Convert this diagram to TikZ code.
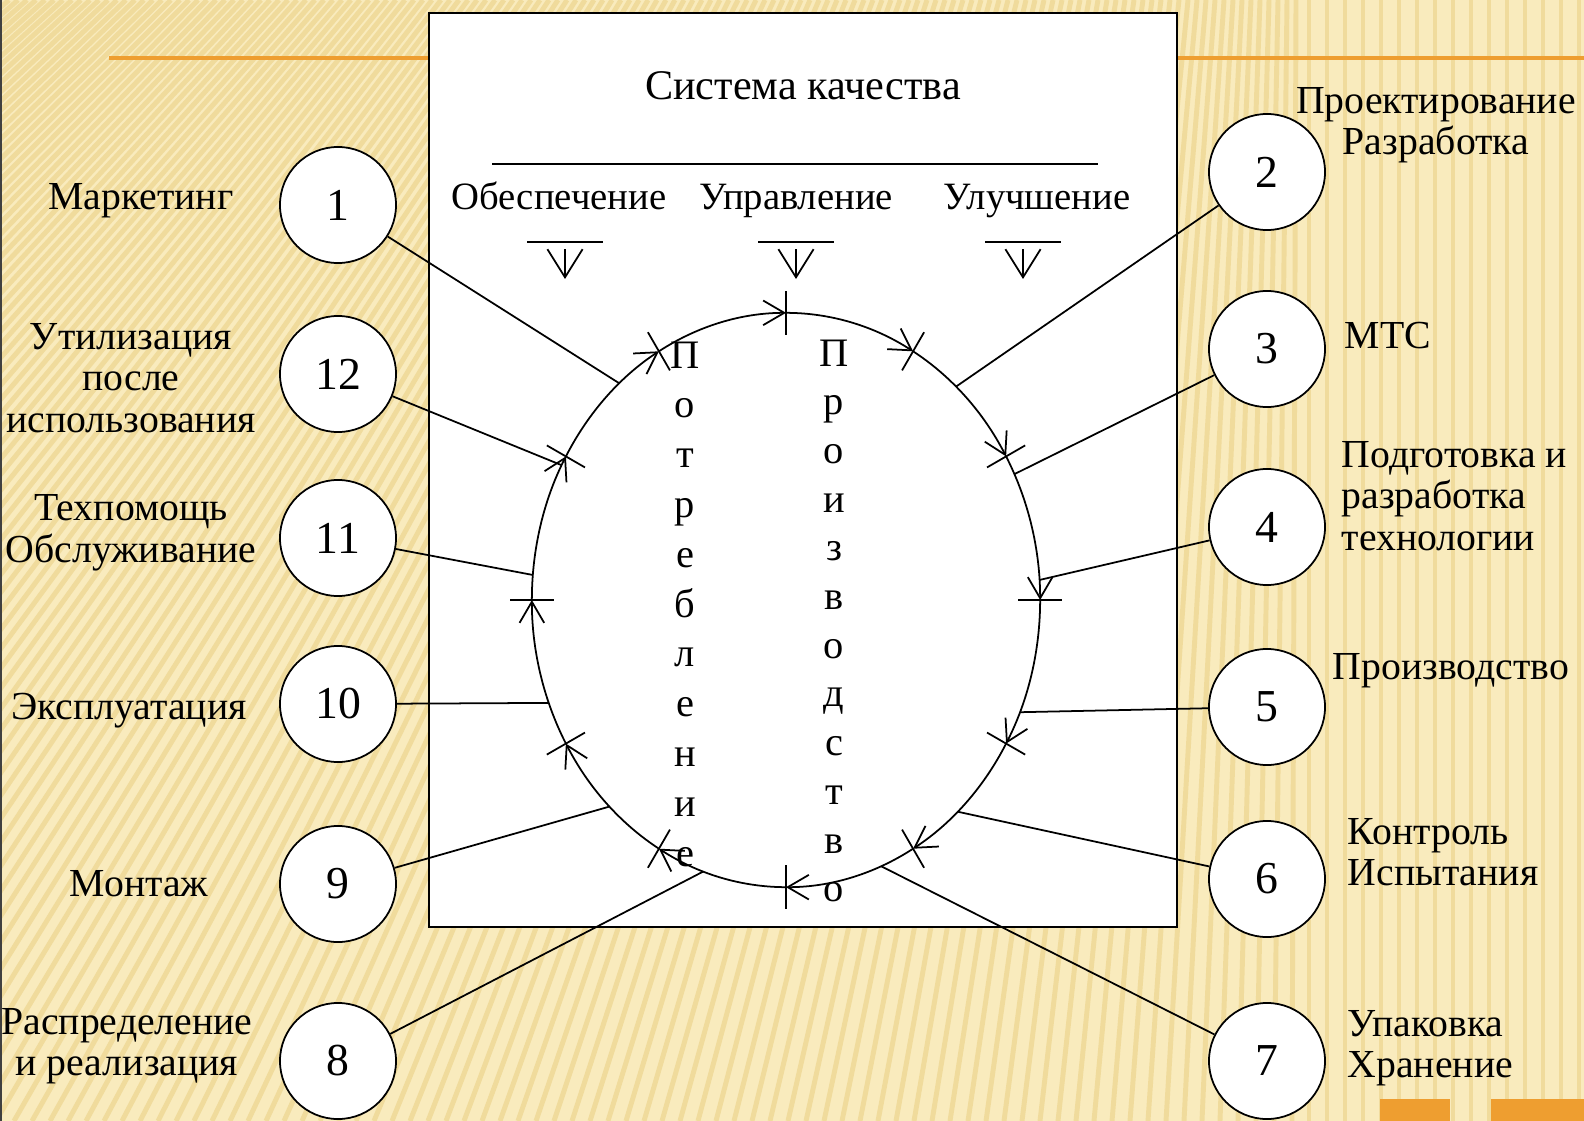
\documentclass[tikz,border=0pt]{standalone}
\usepackage{fontspec}
\setmainfont{Liberation Serif}
\usetikzlibrary{arrows.meta}

\begin{document}
\begin{tikzpicture}[x=0.01cm,y=0.01cm,
  numcirc/.style={circle,draw,fill=white,line width=0.5pt,minimum size=1.16cm,inner sep=0pt,font=\fontsize{13}{13}\selectfont},
  lbl/.style={font=\fontsize{11.3}{11.8}\selectfont,inner sep=0pt},
  head/.style={font=\fontsize{11}{12}\selectfont,inner sep=0pt,anchor=base},
  vletter/.style={font=\fontsize{11.5}{12}\selectfont,inner sep=0pt,anchor=base},
  ring/.style={line width=0.5pt,-{Straight Barb[length=6pt,width=7pt]}},
  link/.style={line width=0.5pt}]
  \definecolor{cbg}{RGB}{249,235,189}
  \definecolor{cstripe}{RGB}{240,219,156}
  \definecolor{corange}{RGB}{238,158,48}
  \useasboundingbox (0,0) rectangle (1584,-1121);
  \fill[cbg] (0,0) rectangle (1584,-1121);
  \begin{scope}
    \clip (0,0) rectangle (1584,-1121);
    \foreach \bx in {-1300,-1282,...,1300}{%
      \draw[cstripe,line width=1.4pt] (\bx,-1121) -- ({0.5*\bx+650},0);
    }
    \foreach \bx in {1309,1327,...,1584}{%
      \draw[cstripe,line width=1.4pt] (\bx,-1121) -- (\bx,0);
    }
  \end{scope}
  \draw[black!75,line width=0.8pt] (1,0) -- (1,-1121);
  \draw[corange,line width=0.9pt] (109,-58) -- (1584,-58);
  \fill[corange] (1380,-1099) rectangle (1450,-1121);
  \fill[corange] (1491,-1099) rectangle (1584,-1121);
  \draw[fill=white,line width=0.6pt] (429,-13) rectangle (1177,-927);
  \node[head,font=\fontsize{12}{13}\selectfont] (title) at (803,-100) {Система качества};
  \draw[link] (492,-164) -- (1098,-164);
  \foreach \nm/\xx/\txt in {hobesp/559/Обеспечение,huprav/796/Управление,huluch/1037/Улучшение}{%
    \node[head] (\nm) at (\xx,-209) {\txt};
  }
  \foreach \xx in {565,796,1023}{%
    \draw[link] (\xx-38,-242) -- (\xx+38,-242);
    \draw[link,-{Straight Barb[length=8pt,width=10pt]}] (\xx,-249) -- (\xx,-279);
  }
  \coordinate (O) at (786,-600);
  \foreach \aa in {90,60,...,-240}{%
    \draw[ring] (O) ++(\aa:2.54cm and 2.87cm) arc[start angle=\aa,end angle=\aa-30,x radius=2.54cm,y radius=2.87cm];
    \path (O) ++(\aa:2.32cm and 2.65cm) coordinate (tkin) (O) ++(\aa:2.76cm and 3.09cm) coordinate (tkout);
    \draw[link] (tkin) -- (tkout);
  }
  \foreach \ch [count=\ii] in {П,о,т,р,е,б,л,е,н,и,е}{%
    \node[vletter] (pt\ii) at (685,{-368-49.8*(\ii-1)}) {\ch};
  }
  \foreach \ch [count=\ii] in {П,р,о,и,з,в,о,д,с,т,в,о}{%
    \node[vletter] (pr\ii) at (834,{-366-48.7*(\ii-1)}) {\ch};
  }
  \foreach \nn/\xx/\yy in {1/338/205,12/338/374,11/338/538,10/338/704,9/338/884,8/338/1061,2/1267/172,3/1267/349,4/1267/527,5/1267/707,6/1267/879,7/1267/1061}{%
    \node[numcirc] (c\nn) at (\xx,-\yy) {\nn};
  }
  \foreach \nn/\aa in {1/131,2/48,3/26,4/4,5/-23,6/-47.5,7/-68,8/-109,9/-134,10/-159,11/175,12/152}{%
    \path (O) ++(\aa:2.54cm and 2.87cm) coordinate (e\nn);
    \draw[link] (c\nn) -- (e\nn);
  }
  \node[lbl,anchor=base] (l1) at (141,-209) {Маркетинг};
  \node[lbl,align=center] (l12) at (131,-378) {Утилизация\\после\\использования};
  \node[lbl,align=center] (l11) at (131,-533) {Техпомощь\\Обслуживание};
  \node[lbl,anchor=base] (l10) at (129,-719) {Эксплуатация};
  \node[lbl,anchor=base] (l9) at (139,-896) {Монтаж};
  \node[lbl,align=center] (l8) at (127,-1046) {Распределение\\и реализация};
  \node[lbl,align=center] (l2) at (1436,-125) {Проектирование\\Разработка};
  \node[lbl,anchor=base west] (l3) at (1344,-348) {МТС};
  \node[lbl,align=left,anchor=west] (l4) at (1341,-496) {Подготовка и\\разработка\\технологии};
  \node[lbl,anchor=base] (l5) at (1451,-679) {Производство};
  \node[lbl,align=left,anchor=west] (l6) at (1347,-852) {Контроль\\Испытания};
  \node[lbl,align=left,anchor=west] (l7) at (1347,-1048) {Упаковка\\Хранение};
\end{tikzpicture}
\end{document}
